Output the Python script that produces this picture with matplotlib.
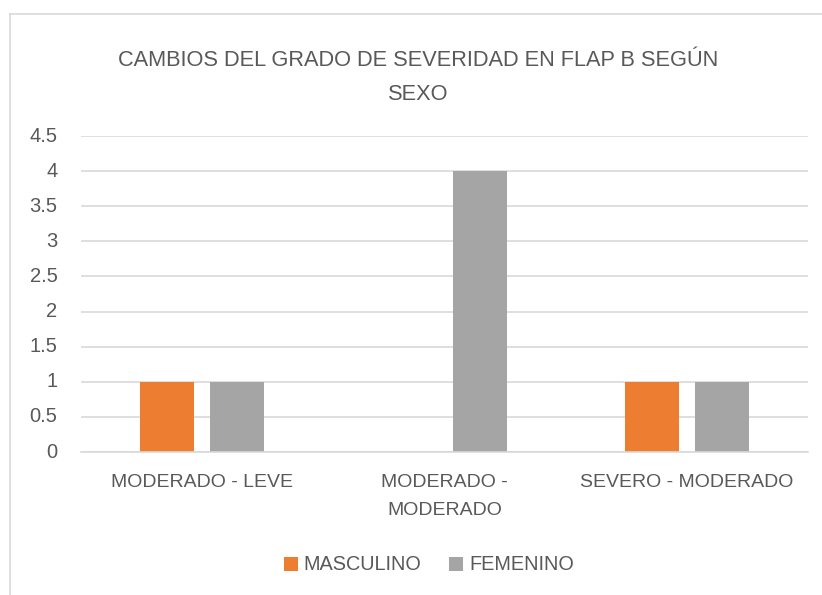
import matplotlib
matplotlib.use("Agg")
import matplotlib.pyplot as plt
import numpy as np
from matplotlib.lines import Line2D
from matplotlib.patches import Patch

categories = ["MODERADO - LEVE", "MODERADO -\nMODERADO", "SEVERO - MODERADO"]
series_names = ["MASCULINO", "FEMENINO"]
masculino = [1, 0, 1]
femenino = [1, 4, 1]
yticks = [0, 0.5, 1, 1.5, 2, 2.5, 3, 3.5, 4, 4.5]
ytick_labels = ["0", "0.5", "1", "1.5", "2", "2.5", "3", "3.5", "4", "4.5"]
title = "CAMBIOS DEL GRADO DE SEVERIDAD EN FLAP B SEGÚN\nSEXO"

colors = ["#ED7D31", "#A5A5A5"]
text_color = "#595959"
grid_color = "#D9D9D9"

plt.rcParams['font.family'] = ['Liberation Sans', 'DejaVu Sans']

W, H = 822, 595
dpi = 100
fig = plt.figure(figsize=(W / dpi, H / dpi), dpi=dpi)
fig.patch.set_facecolor("white")

# chart border (only left/top visible in reference)
fig.add_artist(Line2D([10 / W, 10 / W], [0, 1 - 14 / H], transform=fig.transFigure,
                      color=grid_color, lw=1.2))
fig.add_artist(Line2D([10 / W, 1], [1 - 14 / H, 1 - 14 / H], transform=fig.transFigure,
                      color=grid_color, lw=1.2))

x0, x1 = 81, 808
y0, y1 = 452, 136
ax = fig.add_axes([x0 / W, 1 - y0 / H, (x1 - x0) / W, (y0 - y1) / H])

x = np.arange(len(categories))
bw = 0.223
off = 0.1446
ax.bar(x - off, masculino, bw, color=colors[0], label=series_names[0], zorder=3)
ax.bar(x + off, femenino, bw, color=colors[1], label=series_names[1], zorder=3)

ax.set_xlim(-0.5, len(categories) - 0.5)
ax.set_ylim(0, 4.5)
ax.set_yticks(yticks)
ax.set_yticklabels(ytick_labels)
ax.set_xticks(x)
ax.set_xticklabels(categories, linespacing=1.86)
ax.yaxis.grid(True, color=grid_color, lw=1.2, zorder=0)
ax.xaxis.grid(False)
for s in ["top", "right", "left"]:
    ax.spines[s].set_visible(False)
ax.spines["bottom"].set_color(grid_color)
ax.spines["bottom"].set_linewidth(1.2)
ax.spines["bottom"].set_zorder(4)
ax.tick_params(axis="y", length=0, pad=17, labelsize=14.5, labelcolor=text_color)
ax.tick_params(axis="x", length=0, pad=16, labelsize=14, labelcolor=text_color)
for lab in ax.get_yticklabels():
    lab.set_verticalalignment("center")

fig.text(418 / W, 1 - 77.5 / H, title,
         ha="center", va="center", fontsize=15.7, color=text_color, linespacing=1.8)

handles = [Patch(facecolor=c, edgecolor="none") for c in colors]
leg = fig.legend(handles, series_names, loc="center", bbox_to_anchor=(429 / W, 1 - 565 / H),
                 ncol=2, frameon=False, fontsize=14.3, labelcolor=text_color,
                 handlelength=0.7, handleheight=0.7, handletextpad=0.3, columnspacing=1.4)

fig.savefig("out.png", dpi=dpi, facecolor="white")
